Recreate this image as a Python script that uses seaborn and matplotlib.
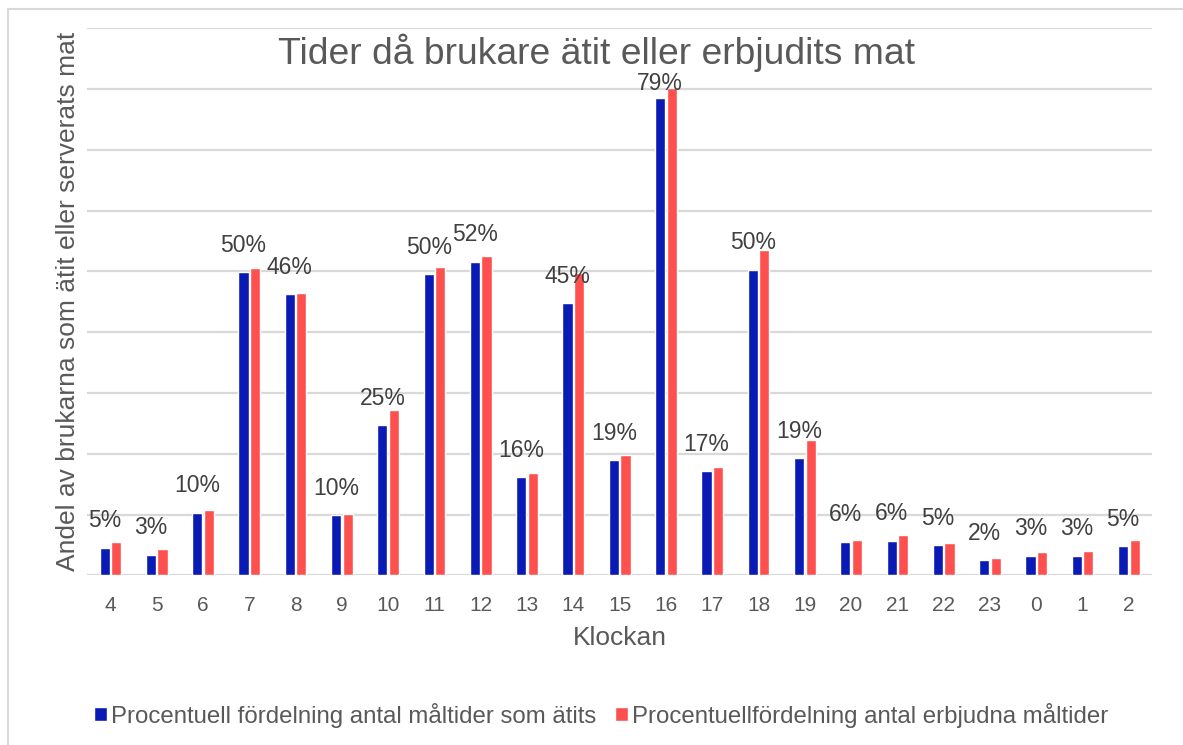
import pandas as pd
import numpy as np
import matplotlib
matplotlib.use('Agg')
import matplotlib.pyplot as plt
import seaborn as sns

# ================= data =================
hours = ['4', '5', '6', '7', '8', '9', '10', '11', '12', '13', '14', '15',
         '16', '17', '18', '19', '20', '21', '22', '23', '0', '1', '2']
atits = [4.55, 3.4, 10.3, 49.9, 46.3, 9.9, 24.7, 49.6, 51.6, 16.2, 44.8, 19.0,
         78.6, 17.15, 50.3, 19.3, 5.55, 5.7, 4.93, 2.46, 3.23, 3.23, 4.77]
erbjudna = [5.55, 4.4, 10.8, 50.6, 46.5, 10.15, 27.2, 50.75, 52.6, 16.8, 49.7, 19.8,
            80.1, 17.8, 53.5, 22.2, 5.87, 6.6, 5.37, 2.9, 3.78, 3.95, 5.87]
serie_a = 'Procentuell fördelning antal måltider som ätits'
serie_b = 'Procentuellfördelning antal erbjudna måltider'

COLOR_A = '#0a1ab4'
COLOR_B = '#ff5050'
GRID = '#d9d9d9'
TXT = '#595959'

df = pd.DataFrame({
    'Klockan': hours * 2,
    'Andel': atits + erbjudna,
    'Serie': [serie_a] * len(hours) + [serie_b] * len(hours),
})

sns.set_style('white')
plt.rcParams['font.family'] = ['Liberation Sans', 'DejaVu Sans']

W, H = 1183, 745
fig = plt.figure(figsize=(W / 100, H / 100), dpi=100)
fig.patch.set_facecolor('white')
ax = fig.add_axes([87.3 / W, 1 - 575.3 / H, (1152 - 87.3) / W, (575.3 - 28.3) / H])

sns.barplot(data=df, x='Klockan', y='Andel', hue='Serie', order=hours,
            hue_order=[serie_a, serie_b], palette=[COLOR_A, COLOR_B], saturation=1,
            width=0.5, gap=0.12, errorbar=None, ax=ax, legend=True)

ax.set_ylim(0, 90)
ax.set_yticks(np.arange(0, 91, 10))
ax.set_yticklabels([])
ax.set_xlim(-0.5, len(hours) - 0.5)
ax.yaxis.grid(True, color=GRID, lw=1.6)
ax.set_axisbelow(True)
for s in ax.spines.values():
    s.set_visible(False)
ax.tick_params(axis='both', length=0)
ax.tick_params(axis='x', labelsize=15, labelcolor=TXT, pad=15)

ax.set_xlabel('Klockan', fontsize=19, color=TXT, labelpad=8)
ax.set_ylabel('Andel av brukarna som ätit eller serverats mat', fontsize=19, color=TXT, labelpad=2)

# data labels (values of the first series)
for bar, v in zip(ax.containers[0], atits):
    off = 2 if v > 70 else 11
    ax.annotate(f'{v:.0f}%', (bar.get_x() + bar.get_width() / 2, bar.get_height()),
                xytext=(0, off), textcoords='offset points', ha='center', va='bottom',
                fontsize=16.5, color='#404040')

# title
fig.text(597 / W, 1 - 64 / H, 'Tider då brukare ätit eller erbjudits mat',
         ha='center', va='baseline', fontsize=26.8, color=TXT)

# legend
handles, labels = ax.get_legend_handles_labels()
ax.get_legend().remove()
fig.legend(handles, labels, loc='center', bbox_to_anchor=(601 / W, 1 - 715 / H), ncol=2,
           frameon=False, fontsize=17.3, labelcolor=TXT, handlelength=0.55, handleheight=0.55,
           handletextpad=0.15, columnspacing=0.8)

# outer chart border
fig.add_artist(plt.Rectangle((8.3 / W, -0.1), 1.2, 0.1 + 1 - 9.3 / H, transform=fig.transFigure,
                             fill=False, edgecolor=GRID, lw=1.5))

plt.savefig('out.png', dpi=100, facecolor='white')
